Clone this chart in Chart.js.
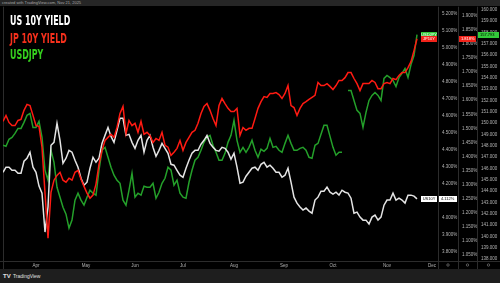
<!DOCTYPE html>
<html>
<head>
<meta charset="utf-8">
<script src="https://cdn.jsdelivr.net/npm/chart.js@4.4.1/dist/chart.umd.min.js"></script>
<style>
  html, body { margin: 0; padding: 0; background: #000; }
  #wrap { position: relative; width: 500px; height: 283px; overflow: hidden; background: #000; }
  #myChart { position: absolute; left: 0; top: 0; }
  .hdr { position: absolute; left: 0; top: 0; width: 500px; height: 6px; background: #262626;
         color: #a8a8a8; font: 4px "Liberation Sans"; line-height: 6px; padding-left: 2px; white-space: nowrap; }
  .ftr { position: absolute; left: 0; top: 269px; width: 500px; height: 14px; background: #1e1e1e;
         color: #e0e0e0; font: 5px "Liberation Sans"; line-height: 14px; padding-left: 3px; white-space: nowrap; }
  .ftr b { font-size: 6px; margin-right: 1px; }
  .leg { position: absolute; left: 10px; font: bold 14px "DejaVu Sans Condensed"; line-height: 14px;
         transform-origin: 0 0; transform: scaleX(0.63); white-space: nowrap; }
</style>
</head>
<body>
<div id="wrap">
  <canvas id="myChart" width="500" height="283"></canvas>
  <div class="hdr">created with TradingView.com, Nov 21, 2025</div>
  <div class="leg" style="top:13px;color:#ffffff">US 10Y YIELD</div>
  <div class="leg" style="top:31px;color:#f5301c">JP 10Y YIELD</div>
  <div class="leg" style="top:47px;color:#35cf1e">USDJPY</div>
  <div class="ftr"><b>TV</b> TradingView</div>
</div>
<script>
// values, one point every few bars
let usYield = [
    4.268, 4.298, 4.298, 4.280, 4.280, 4.263, 4.263, 4.333, 4.351, 4.386,
    4.298, 4.268, 4.187, 4.146, 3.917, 4.064, 4.427, 4.444, 4.556, 4.456,
    4.321, 4.351, 4.397, 4.386, 4.339, 4.298, 4.233, 4.192, 4.210, 4.292,
    4.356, 4.327, 4.351, 4.438, 4.485, 4.532, 4.479, 4.444, 4.515, 4.585,
    4.585, 4.485, 4.491, 4.444, 4.409, 4.456, 4.485, 4.386, 4.456, 4.485,
    4.415, 4.362, 4.397, 4.438, 4.409, 4.380, 4.315, 4.310, 4.280, 4.251,
    4.239, 4.292, 4.339, 4.380, 4.397, 4.397, 4.433, 4.456, 4.485, 4.438,
    4.415, 4.397, 4.392, 4.415, 4.409, 4.386, 4.345, 4.380, 4.298, 4.204,
    4.210, 4.245, 4.268, 4.292, 4.298, 4.280, 4.315, 4.327, 4.298, 4.310,
    4.292, 4.268, 4.268, 4.239, 4.251, 4.292, 4.210, 4.122, 4.087, 4.064,
    4.046, 4.058, 4.040, 4.028, 4.105, 4.122, 4.157, 4.157, 4.181, 4.151,
    4.140, 4.151, 4.134, 4.163, 4.151, 4.146, 4.116, 4.028, 4.034, 4.005,
    3.987, 3.987, 3.964, 4.005, 4.017, 3.987, 4.005, 4.075, 4.105, 4.105,
    4.146, 4.105, 4.116, 4.105, 4.087, 4.134, 4.134, 4.128, 4.112
];
let jpYield = [
    1.525, 1.546, 1.521, 1.510, 1.510, 1.528, 1.532, 1.564, 1.585, 1.581,
    1.546, 1.510, 1.507, 1.433, 1.270, 1.110, 1.273, 1.316, 1.333, 1.344,
    1.316, 1.309, 1.323, 1.316, 1.344, 1.351, 1.319, 1.294, 1.270, 1.252,
    1.263, 1.302, 1.372, 1.422, 1.457, 1.468, 1.479, 1.468, 1.503, 1.553,
    1.578, 1.482, 1.528, 1.510, 1.518, 1.486, 1.525, 1.479, 1.486, 1.475,
    1.450, 1.464, 1.457, 1.486, 1.440, 1.433, 1.404, 1.415, 1.429, 1.457,
    1.422, 1.450, 1.468, 1.486, 1.493, 1.518, 1.553, 1.578, 1.588, 1.564,
    1.535, 1.510, 1.581, 1.606, 1.588, 1.571, 1.560, 1.560, 1.571, 1.475,
    1.503, 1.493, 1.500, 1.500, 1.535, 1.571, 1.595, 1.613, 1.610, 1.624,
    1.624, 1.627, 1.620, 1.606, 1.624, 1.652, 1.581, 1.574, 1.546, 1.571,
    1.588, 1.595, 1.603, 1.610, 1.617, 1.663, 1.652, 1.652, 1.659, 1.649,
    1.638, 1.652, 1.670, 1.670, 1.680, 1.698, 1.698, 1.677, 1.659, 1.634,
    1.659, 1.659, 1.659, 1.670, 1.663, 1.641, 1.641, 1.659, 1.663, 1.659,
    1.677, 1.673, 1.688, 1.698, 1.698, 1.716, 1.737, 1.776, 1.818
];
let usdJpy = [
    148.03, 147.94, 148.56, 148.73, 149.08, 149.52, 149.52, 150.05, 150.67, 150.84,
    149.61, 149.61, 150.14, 148.73, 145.83, 144.95, 147.59, 146.53, 144.33, 143.45,
    142.57, 141.95, 140.72, 141.43, 143.19, 143.80, 143.19, 142.75, 143.45, 144.07,
    143.80, 143.63, 145.83, 147.59, 147.85, 146.97, 146.09, 145.39, 144.95, 144.68,
    143.19, 142.75, 144.07, 145.56, 143.45, 143.80, 143.63, 144.42, 144.33, 144.33,
    144.68, 143.36, 143.89, 144.68, 145.12, 146.09, 145.83, 144.51, 144.95, 143.80,
    143.45, 143.36, 144.77, 145.83, 146.71, 146.97, 147.59, 148.29, 148.73, 148.91,
    148.03, 147.41, 146.71, 146.71, 147.32, 148.29, 148.91, 150.23, 148.47, 147.41,
    147.85, 147.41, 147.85, 148.47, 147.59, 146.97, 147.68, 147.50, 147.76, 148.64,
    147.85, 147.94, 147.59, 147.41, 148.20, 148.91, 148.20, 147.59, 147.59, 147.76,
    147.85, 147.59, 146.97, 146.88, 148.03, 148.20, 149.00, 149.79, 149.79, 148.82,
    147.85, 147.15, 147.41, 147.41, null, 152.87, 152.87, 151.99, 151.11, 150.84,
    149.61, 150.93, 151.99, 152.43, 152.69, 152.43, 151.99, 153.93, 154.19, 154.01,
    153.75, 153.22, 154.01, 154.37, 154.81, 154.01, 155.16, 155.95, 157.793
];

let monthLabels = ['Apr', 'May', 'Jun', 'Jul', 'Aug', 'Sep', 'Oct', 'Nov', 'Dec'];
let monthTicks = [11, 27.7, 44, 60, 77, 93.7, 110, 128, 143];

let usTicks = [3.8, 3.9, 4.0, 4.1, 4.2, 4.3, 4.4, 4.5, 4.6, 4.7, 4.8, 4.9, 5.0, 5.1, 5.2];
let jpTicks = [1.05, 1.10, 1.15, 1.20, 1.25, 1.30, 1.35, 1.40, 1.45, 1.50, 1.55, 1.60,
               1.65, 1.70, 1.75, 1.80, 1.85, 1.90];
let fxTicks = [138, 139, 140, 141, 142, 143, 144, 145, 146, 147, 148, 149, 150, 151,
               152, 153, 154, 155, 156, 157, 158, 159, 160];

const tickFont = { family: 'Liberation Sans', size: 4.5 };
const tickColor = '#b4b4b4';

function rightAxis(min, max, tickList, fmt, width) {
    return {
        position: 'right',
        min: min,
        max: max,
        grid: { display: false, drawTicks: false },
        border: { display: false },
        afterBuildTicks: (s) => { s.ticks = tickList.map(v => ({ value: v })); },
        afterFit: (s) => { s.width = width; },
        ticks: { color: tickColor, font: tickFont, padding: 4, autoSkip: false, callback: fmt }
    };
}

// backgrounds and pane separators
const frame = {
    id: 'frame',
    beforeDraw(chart) {
        const c = chart.ctx, a = chart.chartArea;
        c.save();
        c.fillStyle = '#000';
        c.fillRect(0, 0, chart.width, chart.height);
        c.strokeStyle = '#2c2c2c';
        c.lineWidth = 1;
        c.beginPath();
        [a.left - 0.5, chart.scales.yUS.left, chart.scales.yJP.left, chart.scales.yFX.left].forEach(x => {
            x = Math.round(x) + 0.5;
            c.moveTo(x, a.top);
            c.lineTo(x, chart.scales.x.bottom);
        });
        c.moveTo(0, Math.round(a.bottom) + 0.5);
        c.lineTo(chart.width, Math.round(a.bottom) + 0.5);
        c.stroke();
        // little icons under the price scales
        c.strokeStyle = '#5a5a5a';
        ['yUS', 'yJP', 'yFX'].forEach(id => {
            const s = chart.scales[id];
            c.beginPath();
            c.arc((s.left + s.right) / 2, (a.bottom + chart.scales.x.bottom) / 2, 1.2, 0, Math.PI * 2);
            c.stroke();
        });
        c.restore();
    }
};

// last value tags on the plot edge and on each price scale
const lastTags = {
    id: 'lastTags',
    afterDatasetsDraw(chart) {
        const c = chart.ctx, a = chart.chartArea;
        const tags = [
            { ds: 2, axis: 'yFX', name: 'USDJPY', bg: '#33c93a', fg: '#ffffff', vfg: '#000000', fmt: v => v.toFixed(3) },
            { ds: 1, axis: 'yJP', name: 'JP10Y', bg: '#f2231a', fg: '#ffffff', vfg: '#ffffff', fmt: v => v.toFixed(3) + '%' },
            { ds: 0, axis: 'yUS', name: 'US10Y', bg: '#ffffff', fg: '#000000', vfg: '#000000', fmt: v => v.toFixed(3) + '%' }
        ];
        c.save();
        c.font = '4px "Liberation Sans"';
        c.textBaseline = 'middle';
        tags.forEach(t => {
            const data = chart.data.datasets[t.ds].data;
            const v = data[data.length - 1];
            const s = chart.scales[t.axis];
            const y = Math.round(s.getPixelForValue(v));
            c.fillStyle = t.bg;
            c.fillRect(a.right - 17, y - 3, 16, 6);
            c.fillRect(s.left + 1, y - 3, s.width - 2, 6);
            c.fillStyle = t.fg;
            c.textAlign = 'center';
            c.fillText(t.name, a.right - 9, y + 0.3);
            c.fillStyle = t.vfg;
            c.textAlign = 'left';
            c.fillText(t.fmt(v), s.left + 3, y + 0.3);
        });
        c.restore();
    }
};

let myChart = document.getElementById('myChart').getContext('2d');
let yieldChart = new Chart(myChart, {
    type: 'line',
    data: {
        labels: usYield.map((v, i) => i),
        datasets: [
            { label: 'US 10Y YIELD', data: usYield, yAxisID: 'yUS', borderColor: '#e4e4e4', order: 2 },
            { label: 'JP 10Y YIELD', data: jpYield, yAxisID: 'yJP', borderColor: '#ff1a12', order: 1 },
            { label: 'USDJPY', data: usdJpy, yAxisID: 'yFX', borderColor: '#24a02a', order: 3 }
        ]
    },
    options: {
        responsive: false,
        animation: false,
        layout: { padding: { left: 3, top: 6, right: 0, bottom: 14 } },
        elements: {
            point: { radius: 0 },
            line: { borderWidth: 1.5, tension: 0 }
        },
        plugins: { legend: { display: false }, tooltip: { enabled: false } },
        scales: {
            x: {
                type: 'linear',
                min: 0,
                max: 145,
                grid: { display: false, drawTicks: false },
                border: { display: false },
                afterBuildTicks: (s) => { s.ticks = monthTicks.map(v => ({ value: v })); },
                afterFit: (s) => { s.height = 8; },
                ticks: {
                    color: tickColor, font: tickFont, padding: 2, autoSkip: false, maxRotation: 0,
                    callback: (v) => monthLabels[monthTicks.indexOf(v)]
                }
            },
            yUS: rightAxis(3.747, 5.241, usTicks, v => v.toFixed(3) + '%', 20),
            yJP: rightAxis(1.029, 1.932, jpTicks, v => v.toFixed(3) + '%', 19),
            yFX: rightAxis(137.82, 160.26, fxTicks, v => v.toFixed(3), 23)
        }
    },
    plugins: [frame, lastTags]
});
</script>
</body>
</html>
